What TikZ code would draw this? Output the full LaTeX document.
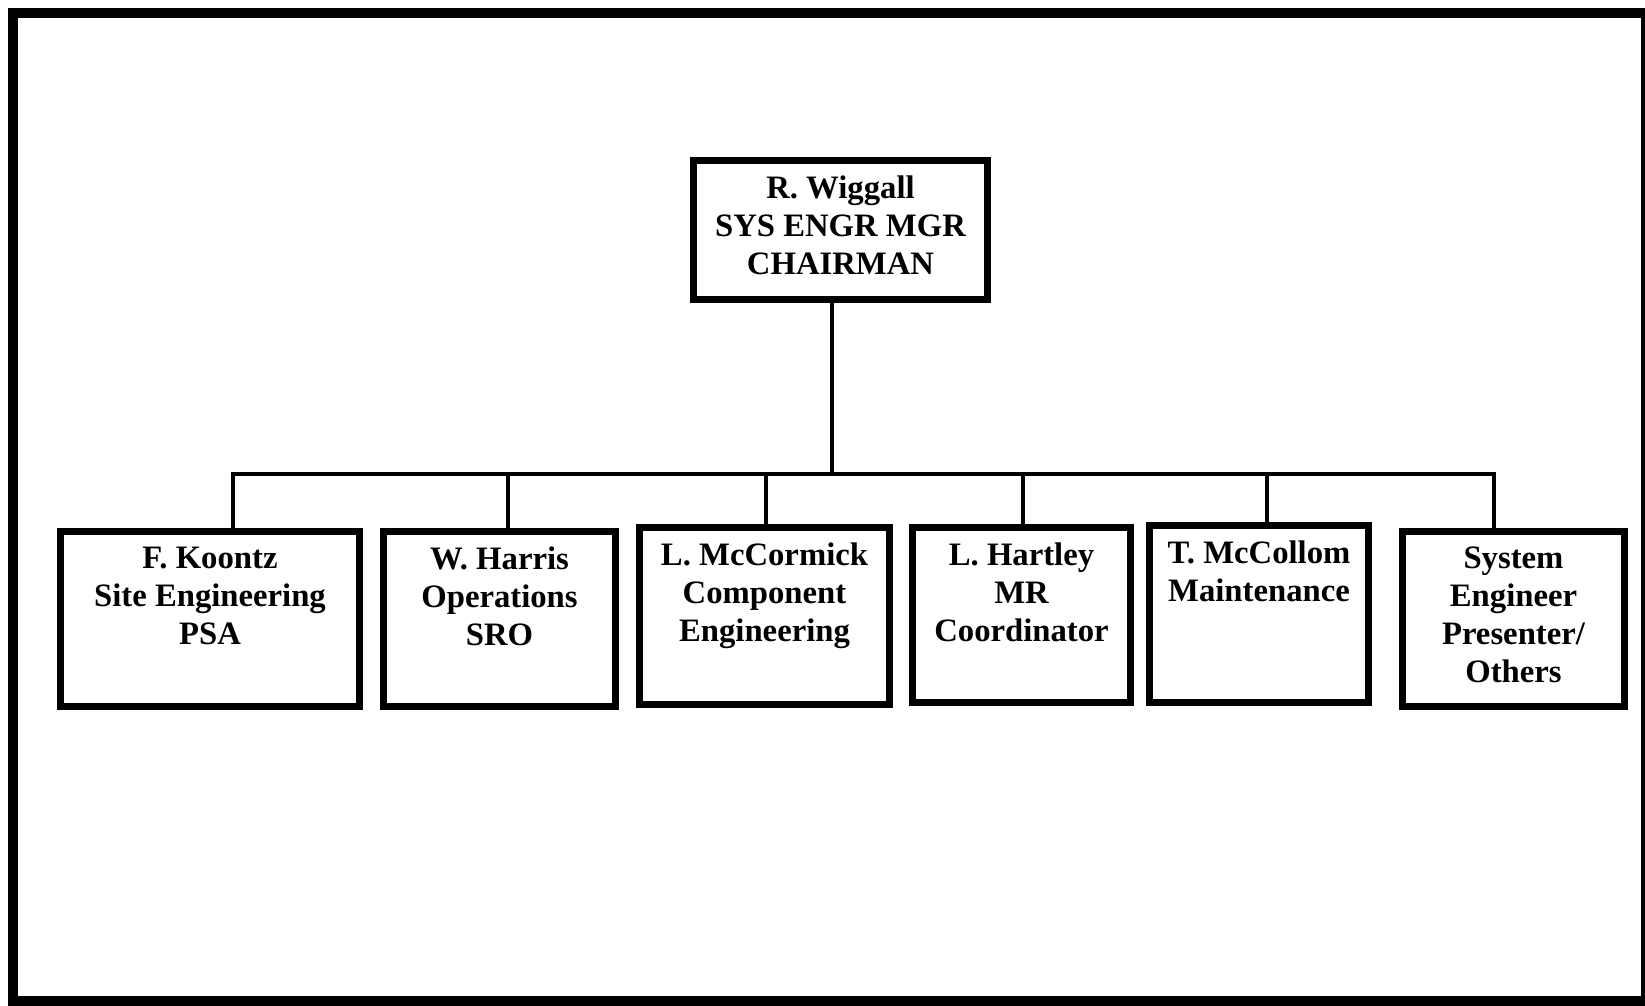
\documentclass[tikz,border=0pt]{standalone}
\usepackage{fontspec}
\setmainfont{Liberation Serif}
\usetikzlibrary{positioning}
\newcommand{\orgfont}{\fontsize{9.3}{10.8}\selectfont\bfseries}
\begin{document}
\begin{tikzpicture}[x=0.01cm,y=0.01cm,
  orgbox/.style={draw,line width=0.7mm,inner sep=0pt,minimum height=1.75cm},
  orgtext/.style={align=center,inner sep=0pt,font=\orgfont},
  orgline/.style={line width=0.45mm}]
\useasboundingbox (0,0) rectangle (1645,-1006);
% outer frame
\draw[line width=1mm] (13,-13) rectangle (1646,-1001);
% chairman box
\node[orgbox,minimum width=2.94cm,minimum height=1.39cm] (chair) at (840.5,-230) {};
\node[orgtext,below=0.18cm of chair.north] (chairT) {R. Wiggall\\SYS ENGR MGR\\CHAIRMAN};
% committee members
\node[orgbox,minimum width=2.99cm] (koontz) at (210,-619) {};
\node[orgbox,minimum width=2.32cm] (harris) at (499.5,-619) {};
\node[orgbox,minimum width=2.50cm,minimum height=1.77cm] (mccormick) at (764.5,-616) {};
\node[orgbox,minimum width=2.18cm] (hartley) at (1021.5,-615) {};
\node[orgbox,minimum width=2.19cm,minimum height=1.77cm] (mccollom) at (1259,-614) {};
\node[orgbox,minimum width=2.22cm] (syseng) at (1513.5,-619) {};
\node[orgtext,below=0.18cm of koontz.north] (koontzT) {F. Koontz\\Site Engineering\\PSA};
\node[orgtext,below=0.18cm of harris.north] (harrisT) {W. Harris\\Operations\\SRO};
\node[orgtext,below=0.18cm of mccormick.north] (mccormickT) {L. McCormick\\Component\\Engineering};
\node[orgtext,below=0.18cm of hartley.north] (hartleyT) {L. Hartley\\MR\\Coordinator};
\node[orgtext,below=0.18cm of mccollom.north] (mccollomT) {T. McCollom\\Maintenance};
\node[orgtext,below=0.18cm of syseng.north] (sysengT) {System\\Engineer\\Presenter/\\Others};
% bus line
\coordinate (stem) at (832,-474);
\coordinate (d1) at (233,-474); \coordinate (d2) at (508,-474);
\coordinate (d3) at (766,-474); \coordinate (d4) at (1023,-474);
\coordinate (d5) at (1267,-474); \coordinate (d6) at (1494,-474);
\draw[orgline] (chair.south -| stem) -- (stem);
\draw[orgline] (d1 |- koontz.north) -- (d1) -- (d6) -- (d6 |- syseng.north);
\foreach \d/\b in {d2/harris,d3/mccormick,d4/hartley,d5/mccollom}
  \draw[orgline] (\d) -- (\d |- \b.north);
\end{tikzpicture}
\end{document}
